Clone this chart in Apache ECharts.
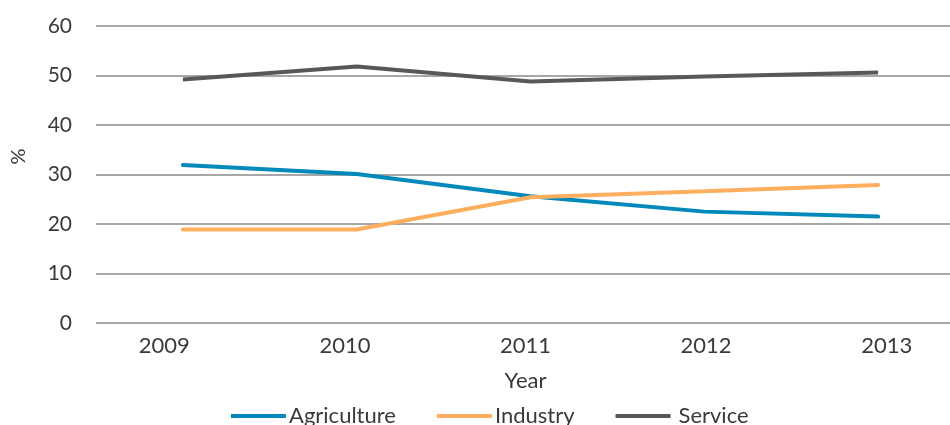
<!DOCTYPE html>
<html>
<head>
<meta charset="utf-8">
<script src="https://cdn.jsdelivr.net/npm/echarts@6/dist/echarts.min.js"></script>
<style>
  html, body { margin: 0; padding: 0; background: #fff; }
  #chart { width: 950px; height: 425px; }
</style>
</head>
<body>
<div id="chart"></div>
<script>
// Employment share by sector, percent
const years = ['2009', '2010', '2011', '2012', '2013'];
const agriculture = [31.9, 30.1, 25.6, 22.5, 21.5];
const industry = [18.9, 18.9, 25.4, 26.6, 27.9];
const service = [49.2, 51.8, 48.8, 49.8, 50.6];
const yTicks = { min: 0, max: 60, interval: 10 };

const FONT = 'Lato';
const TEXT = '#3a3a3a';
const GRIDLINE = '#8a8a8a';

const chart = echarts.init(document.getElementById('chart'), null, { renderer: 'canvas' });

chart.setOption({
  animation: false,
  backgroundColor: '#fff',
  textStyle: { fontFamily: FONT, color: TEXT },
  grid: [
    // plotting area for the lines (runs past the right edge)
    { left: 96, right: -15, top: 26, bottom: 102, outerBoundsMode: 'none', containLabel: false },
    // area that carries the year labels
    { left: 74, right: -27, top: 26, bottom: 102, outerBoundsMode: 'none', containLabel: false }
  ],
  legend: {
    left: 231,
    top: 405,
    padding: 0,
    itemWidth: 55,
    itemHeight: 4,
    itemGap: 41,
    icon: 'rect',
    textStyle: { fontFamily: FONT, fontSize: 22, color: TEXT, padding: [0, 0, 0, -2] },
    data: [
      { name: 'Agriculture' },
      { name: 'Industry' },
      { name: 'Service', textStyle: { padding: [0, 0, 0, 3] } }
    ]
  },
  xAxis: [
    {
      type: 'category',
      gridIndex: 0,
      data: years,
      boundaryGap: true,
      axisLine: { show: false },
      axisTick: { show: false },
      axisLabel: { show: false }
    },
    {
      type: 'category',
      gridIndex: 1,
      data: years,
      boundaryGap: true,
      axisLine: { show: false },
      axisTick: { show: false },
      axisLabel: { fontFamily: FONT, fontSize: 22, color: TEXT, margin: 12 },
      name: 'Year',
      nameLocation: 'middle',
      nameGap: 47,
      nameTextStyle: { fontFamily: FONT, fontSize: 22, color: TEXT }
    }
  ],
  yAxis: [
    {
      type: 'value',
      gridIndex: 0,
      min: yTicks.min,
      max: yTicks.max,
      interval: yTicks.interval,
      axisLine: { show: false },
      axisTick: { show: false },
      axisLabel: { fontFamily: FONT, fontSize: 21, color: TEXT, margin: 24 },
      splitLine: { lineStyle: { color: GRIDLINE, width: 1.5 } },
      name: '%',
      nameLocation: 'middle',
      nameRotate: 90,
      nameGap: 67,
      nameTextStyle: { fontFamily: FONT, fontSize: 20, color: TEXT, padding: [0, 0, 0, 36] }
    },
    {
      type: 'value',
      gridIndex: 1,
      min: yTicks.min,
      max: yTicks.max,
      interval: yTicks.interval,
      show: false,
      splitLine: { show: false }
    }
  ],
  series: [
    {
      name: 'Agriculture',
      type: 'line',
      xAxisIndex: 0,
      yAxisIndex: 0,
      data: agriculture,
      symbol: 'none',
      color: '#0089BA',
      lineStyle: { width: 4, color: '#0089BA', cap: 'round' }
    },
    {
      name: 'Industry',
      type: 'line',
      xAxisIndex: 0,
      yAxisIndex: 0,
      data: industry,
      symbol: 'none',
      color: '#FDAF5F',
      lineStyle: { width: 4, color: '#FDAF5F', cap: 'round' }
    },
    {
      name: 'Service',
      type: 'line',
      xAxisIndex: 0,
      yAxisIndex: 0,
      data: service,
      symbol: 'none',
      color: '#585858',
      lineStyle: { width: 4, color: '#585858' }
    }
  ]
});
</script>
</body>
</html>
